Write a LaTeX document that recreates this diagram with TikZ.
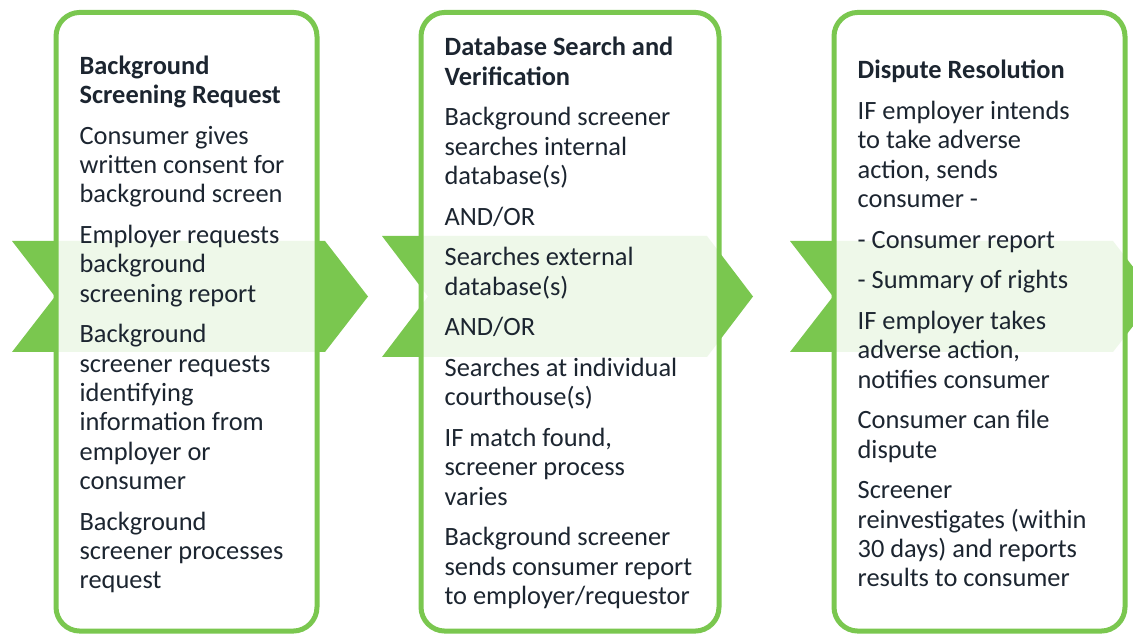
\documentclass[tikz,border=0pt]{standalone}
\usepackage{fontspec}
\setmainfont{Carlito}
\usepackage{tikz}
\usetikzlibrary{positioning}
\definecolor{leafgreen}{HTML}{7AC74F}
\definecolor{inkblue}{HTML}{1C2530}
\tikzstyle{chevron} = [fill=leafgreen]
\tikzstyle{panel} = [rectangle, draw=leafgreen, line width=3.75pt, rounded corners=18pt,
    fill=white, fill opacity=0.88, draw opacity=1, inner sep=0pt, minimum height=464pt]
\tikzstyle{paneltext} = [align=left, anchor=west, text=inkblue, text opacity=1,
    font=\fontsize{19.8}{22}\selectfont, inner sep=0pt]

\begin{document}
\begin{tikzpicture}[x=0.75pt, y=-0.75pt]
		\useasboundingbox (0,0) rectangle (1133,634);
		% chevrons behind the panels
		\fill [chevron] (12,241) -- (325,241) -- (368,296.5) -- (325,352) -- (12,352) -- (55,296.5) -- cycle;
		\fill [chevron] (382,236) -- (707,236) -- (753,296.5) -- (707,357) -- (382,357) -- (428,296.5) -- cycle;
		\fill [chevron] (790,241) -- (1113,241) -- (1156,296.5) -- (1113,352) -- (790,352) -- (833,296.5) -- cycle;
		
		\node [panel, minimum width=195.75pt] (request) at (186.5,321.75) {};
		\node [panel, minimum width=223.5pt] (search) at (570,321.75) {};
		\node [panel, minimum width=218.25pt] (dispute) at (979.5,321.75) {};
		
		\node [paneltext, right=19.4pt of request.west, yshift=-2pt] (requesttext) {\textbf{Background}\\
			\textbf{Screening Request}\\[8.5pt]
			Consumer gives\\ written consent for\\ background screen\\[8.5pt]
			Employer requests\\ background\\ screening report\\[8.5pt]
			Background\\ screener requests\\ identifying\\ information from\\ employer or\\ consumer\\[8.5pt]
			Background\\ screener processes\\ request};
		\node [paneltext, right=19.4pt of search.west, yshift=-1pt] (searchtext) {\textbf{Database Search and}\\
			\textbf{Verification}\\[8.5pt]
			Background screener\\ searches internal\\ database(s)\\[8.5pt]
			AND/OR\\[8.5pt]
			Searches external\\ database(s)\\[8.5pt]
			AND/OR\\[8.5pt]
			Searches at individual\\ courthouse(s)\\[8.5pt]
			IF match found,\\ screener process\\ varies\\[8.5pt]
			Background screener\\ sends consumer report\\ to employer/requestor};
		\node [paneltext, right=19.4pt of dispute.west, yshift=-1.5pt] (disputetext) {\textbf{Dispute Resolution}\\[8.5pt]
			IF employer intends\\ to take adverse\\ action, sends\\ consumer -\\[8.5pt]
			- Consumer report\\[8.5pt]
			- Summary of rights\\[8.5pt]
			IF employer takes\\ adverse action,\\ notifies consumer\\[8.5pt]
			Consumer can file\\ dispute\\[8.5pt]
			Screener\\ reinvestigates (within\\ 30 days) and reports\\ results to consumer};
		
		\end{tikzpicture}
\end{document}
